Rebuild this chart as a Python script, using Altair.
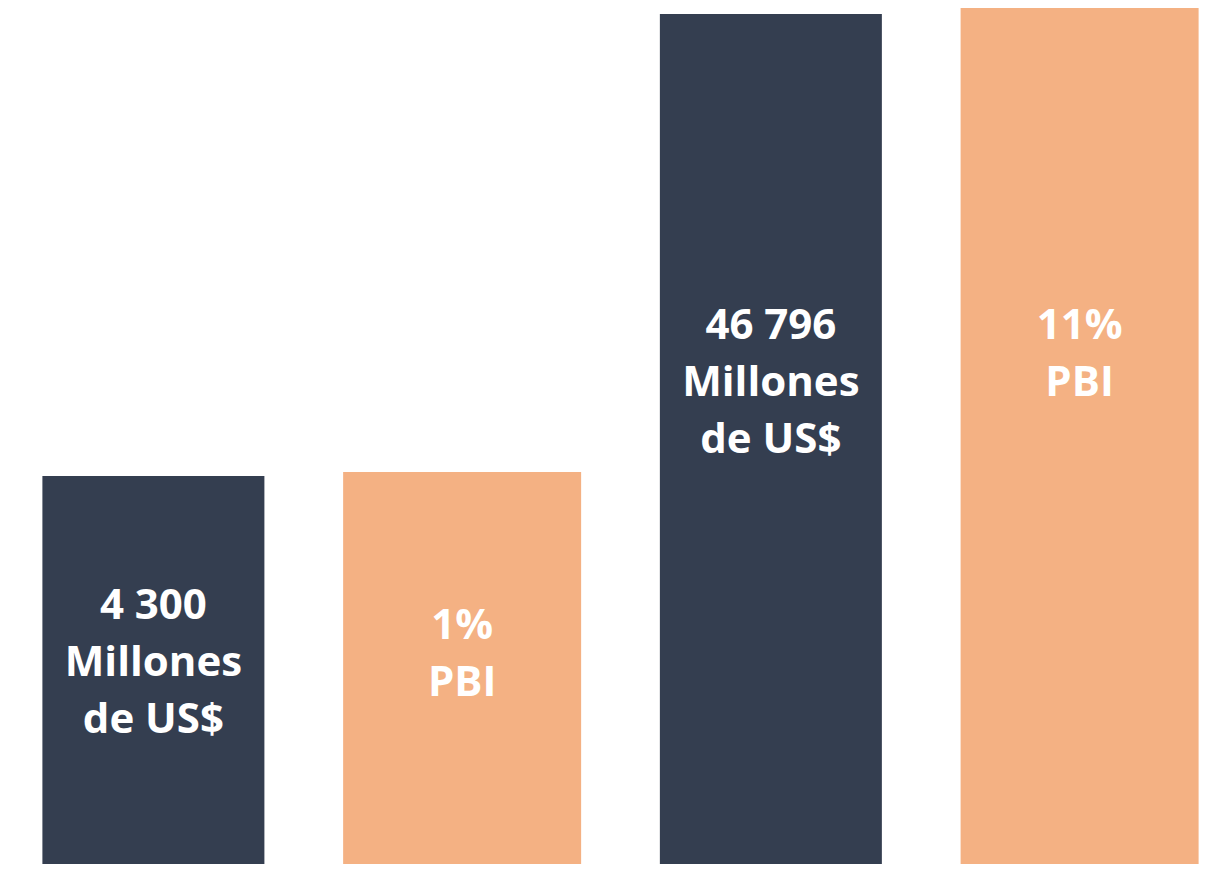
import altair as alt
import pandas as pd

# Data (bar heights in picture units, tallest ≈ 856)
categories = ["A", "B", "C", "D"]
groups = ["monto", "pbi", "monto", "pbi"]
bar_heights = [388, 392, 850, 856]
labels = ["4 300\nMillones\nde US$", "1%\nPBI", "46 796\nMillones\nde US$", "11%\nPBI"]
label_first_line = [258, 238, 538, 538]

df = pd.DataFrame({
    "cat": categories,
    "group": groups,
    "height": bar_heights,
    "label": labels,
    "label_y": label_first_line,
})

x = alt.X("cat:N", axis=None, sort=categories,
          scale=alt.Scale(paddingInner=0.255, paddingOuter=0.079))
yscale = alt.Scale(domain=[0, 856], nice=False, zero=True)
cscale = alt.Scale(domain=["monto", "pbi"], range=["#343E50", "#F4B183"])

def bar_layer(group, width):
    return alt.Chart(df).transform_filter(alt.datum.group == group).mark_bar(width=width).encode(
        x=x,
        y=alt.Y("height:Q", axis=None, scale=yscale),
        color=alt.Color("group:N", legend=None, scale=cscale),
    )

text = alt.Chart(df).mark_text(
    color="white", font="Open Sans", fontWeight="bold", fontSize=42,
    lineBreak="\n", lineHeight=57, baseline="middle", align="center",
).encode(
    x=x,
    y=alt.Y("label_y:Q", axis=None, scale=yscale),
    text="label:N",
)

chart = (bar_layer("monto", 222) + bar_layer("pbi", 238) + text).properties(
    width=1205, height=856,
    padding={"left": 6, "top": 0, "right": 0, "bottom": 0},
).configure_view(stroke=None)

chart.save("out.html", embed_options={"renderer": "svg", "actions": False})
